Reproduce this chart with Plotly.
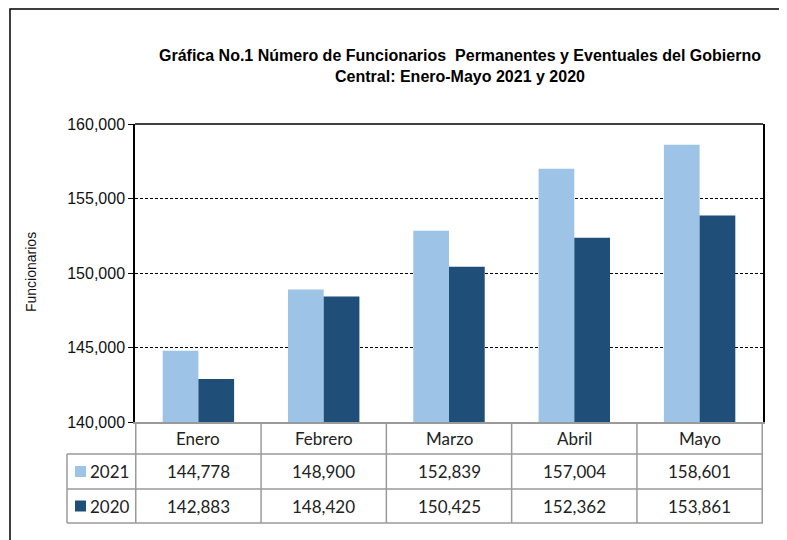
import plotly.graph_objects as go

months = ["Enero", "Febrero", "Marzo", "Abril", "Mayo"]
series_names = ["2021", "2020"]
values_2021 = [144778, 148900, 152839, 157004, 158601]
values_2020 = [142883, 148420, 150425, 152362, 153861]
colors = ["#9DC3E6", "#1F4E79"]
y_ticks = [140000, 145000, 150000, 155000, 160000]

OFF = 8  # page body margin
W, H = 787 - OFF, 540 - OFF
L, R, T, B = 135 - OFF, 24, 124 - OFF, 118
PW, PH = W - L - R, H - T - B

def px_x(p):
    return (p - OFF - L) / PW

def px_y(p):
    return (H - B - (p - OFF)) / PH

fig = go.Figure()
for name, vals, col in zip(series_names, [values_2021, values_2020], colors):
    fig.add_trace(go.Bar(x=months, y=vals, name=name, marker=dict(color=col, line=dict(width=0))))

shapes = []
annotations = []
grid_col = "#9a9a9a"

row_top, row1, row2, row3 = 422, 454, 489, 523
lab_left = 67

for py in [row1, row2, row3]:
    shapes.append(dict(type="line", xref="paper", yref="paper", x0=px_x(lab_left), x1=1,
                       y0=px_y(py), y1=px_y(py), line=dict(color=grid_col, width=1.5)))
for i in range(len(months) + 1):
    shapes.append(dict(type="line", xref="x", yref="paper", x0=i - 0.5, x1=i - 0.5,
                       y0=0, y1=px_y(row3), line=dict(color=grid_col, width=1.5)))
shapes.append(dict(type="line", xref="paper", yref="paper", x0=px_x(lab_left), x1=px_x(lab_left),
                   y0=px_y(row1), y1=px_y(row3), line=dict(color=grid_col, width=1.5)))
shapes.append(dict(type="line", xref="paper", yref="paper", x0=0, x1=1, y0=1, y1=1,
                   line=dict(color="black", width=1.5)))
shapes.append(dict(type="path", xref="paper", yref="paper",
                   path=f"M {px_x(10)},{px_y(560)} L {px_x(10)},{px_y(9)} L {px_x(800)},{px_y(9)}",
                   line=dict(color="black", width=1.5)))

tfont = dict(family="Lato, Carlito, sans-serif", size=17, color="#222")
for m in months:
    annotations.append(dict(x=m, xref="x", y=px_y((row_top + row1) / 2), yref="paper",
                            text=m, showarrow=False, font=tfont, xanchor="center", yanchor="middle"))
for vals, (ya, yb) in [(values_2021, (row1, row2)), (values_2020, (row2, row3))]:
    for m, v in zip(months, vals):
        annotations.append(dict(x=m, xref="x", y=px_y((ya + yb) / 2), yref="paper",
                                text=f"{v:,}", showarrow=False, font=tfont,
                                xanchor="center", yanchor="middle"))
for name, col, (ya, yb) in zip(series_names, colors, [(row1, row2), (row2, row3)]):
    cy = (ya + yb) / 2
    shapes.append(dict(type="rect", xref="paper", yref="paper", x0=px_x(75), x1=px_x(86),
                       y0=px_y(cy + 5.5), y1=px_y(cy - 5.5), fillcolor=col, line=dict(width=0)))
    annotations.append(dict(x=px_x(88), xref="paper", y=px_y(cy), yref="paper", text=name,
                            showarrow=False, font=tfont, xanchor="left", yanchor="middle"))

annotations.append(dict(x=px_x(460), xref="paper", y=px_y(66), yref="paper",
                        text="<b>Gráfica No.1 Número de Funcionarios  Permanentes y Eventuales del Gobierno<br>Central: Enero-Mayo 2021 y 2020</b>",
                        showarrow=False, xanchor="center", yanchor="middle",
                        font=dict(family="Liberation Sans Narrow, Arial Narrow, Liberation Sans, Arial", size=16, color="black")))
annotations.append(dict(x=px_x(31), xref="paper", y=px_y(272), yref="paper", text="Funcionarios",
                        textangle=-90, showarrow=False, xanchor="center", yanchor="middle",
                        font=dict(family="Liberation Sans, Arial", size=14, color="#111")))

fig.update_layout(
    width=W, height=H, margin=dict(l=L, r=R, t=T, b=B),
    paper_bgcolor="white", plot_bgcolor="white",
    barmode="group", bargap=0.43, bargroupgap=0,
    showlegend=False, shapes=shapes, annotations=annotations,
    xaxis=dict(showticklabels=False, ticks="", showgrid=False, showline=True,
               linecolor=grid_col, linewidth=1.5, zeroline=False),
    yaxis=dict(range=[140000, 160000], tickvals=y_ticks, tickformat=",d",
               ticks="outside", ticklen=5, tickcolor="black", tickwidth=1,
               showline=True, linecolor="black", linewidth=1.5, mirror=True,
               showgrid=True, gridcolor="black", griddash="3px,2px", gridwidth=1,
               zeroline=False,
               tickfont=dict(family="Liberation Sans, Arial", size=16, color="#111")),
)
fig.write_html("out.html")
